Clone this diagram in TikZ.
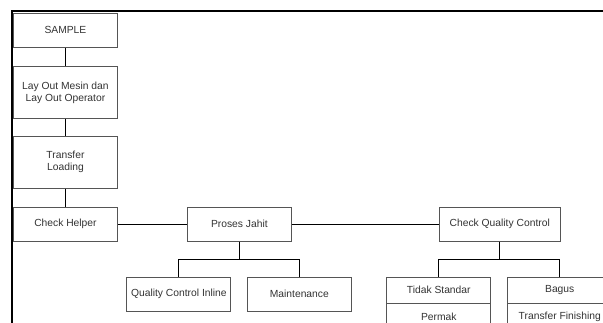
\documentclass[tikz,border=0pt]{standalone}
\usepackage{fontspec}
\setmainfont{Liberation Sans}
\usetikzlibrary{positioning}
\definecolor{boxline}{HTML}{555555}
\definecolor{boxtext}{HTML}{333333}
\tikzset{
	box/.style={draw=boxline, line width=0.9pt, fill=white, text=boxtext,
		minimum width=104pt, minimum height=34pt, inner sep=2pt, align=center,
		font=\fontsize{10.3}{12}\selectfont},
	tallbox/.style={box, minimum height=52pt},
	flatbox/.style={box, minimum height=26pt},
	link/.style={draw=black, line width=0.8pt},
}
\begin{document}
\begin{tikzpicture}[x=1pt, y=1pt, node distance=18pt]
	\useasboundingbox (0,0) rectangle (603,323);
	\clip (0,0) rectangle (603,323);
	% page frame
	\draw[line width=2pt] (12,0) -- (12,312) -- (603,312);

	% Specification of nodes (position, etc.)
	\node (sample)		[box, anchor=north west]		at (13,310)	{SAMPLE};
	\node (layout)		[tallbox, below=of sample]					{Lay Out Mesin dan\\Lay Out Operator};
	\node (transfer)	[tallbox, below=17pt of layout]				{Transfer\\Loading};
	\node (helper)		[box, below=of transfer]					{Check Helper};
	\node (jahit)			[box, right=69pt of helper]					{Proses Jahit};
	\node (cqc)				[box, minimum width=121pt, right=147pt of jahit]
																									{Check Quality Control};
	\node (qci)				[box, below=35pt of jahit, xshift=-60.5pt]	{Quality Control Inline};
	\node (maint)			[box, below=35pt of jahit, xshift=60pt]		{Maintenance};
	\node (tidak)			[flatbox, below=35pt of cqc, xshift=-61pt]	{Tidak Standar};
	\node (permak)		[flatbox, below=0pt of tidak]				{Permak};
	\node (bagus)			[flatbox, below=35pt of cqc, xshift=60pt]	{Bagus};
	\node (finishing)	[flatbox, below=0pt of bagus]				{Transfer Finishing};

	% Specification of lines between nodes specified above
	\draw[link]	(sample) -- (layout);
	\draw[link]	(layout) -- (transfer);
	\draw[link]	(transfer) -- (helper);
	\draw[link]	(helper) -- (jahit);
	\draw[link]	(jahit) -- (cqc);
	\draw[link]	(jahit.south) -- ++(0,-18) -| (qci.north);
	\draw[link]	(jahit.south) -- ++(0,-18) -| (maint.north);
	\draw[link]	(cqc.south) -- ++(0,-18) -| (tidak.north);
	\draw[link]	(cqc.south) -- ++(0,-18) -| (bagus.north);
\end{tikzpicture}
\end{document}
